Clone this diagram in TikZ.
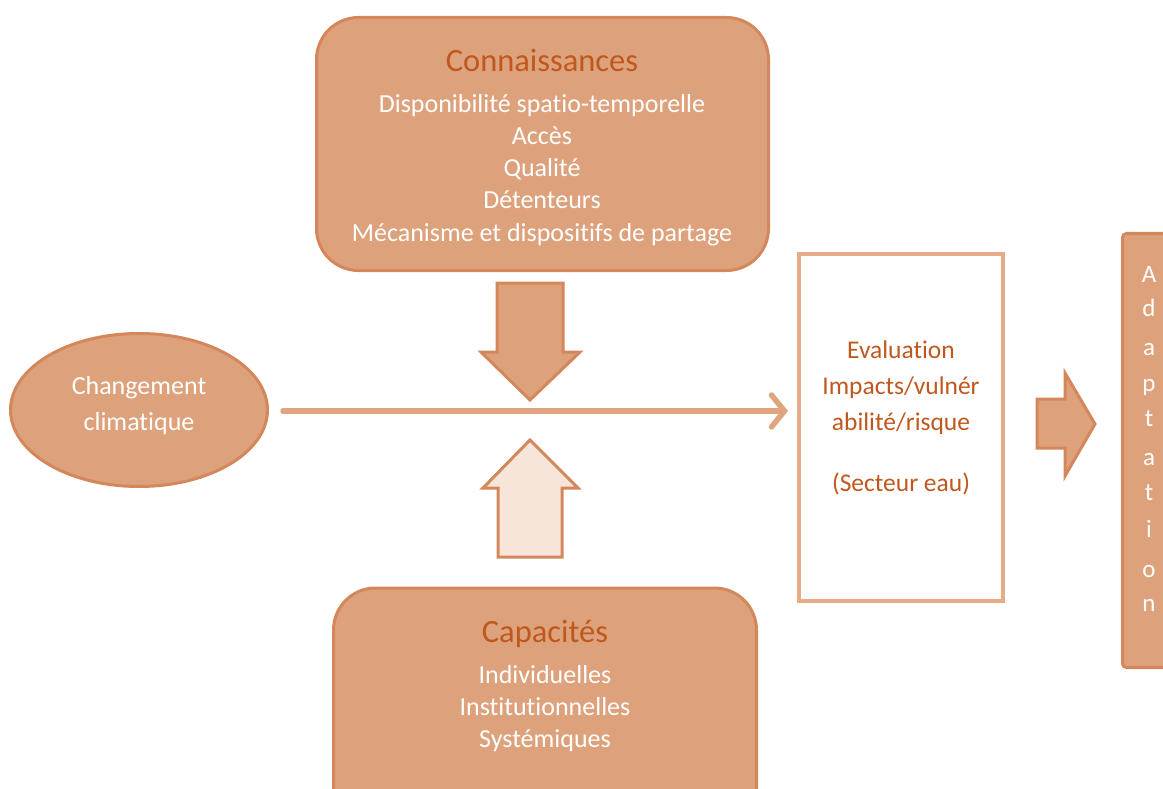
\documentclass[tikz,border=0pt]{standalone}
\usepackage{fontspec}
\setmainfont{Carlito}[Ligatures={NoCommon,NoRequired,NoContextual}]
\usetikzlibrary{arrows.meta,shapes.geometric}
\definecolor{boxfill}{HTML}{DDA27C}
\definecolor{boxline}{HTML}{D4875A}
\definecolor{titlecol}{HTML}{C0581E}
\definecolor{evalline}{HTML}{E6AC88}
\definecolor{linkcol}{HTML}{E0A47F}
\definecolor{lightfill}{HTML}{F7E5DA}
\tikzset{
  rbox/.style={draw=boxline, line width=3pt, fill=boxfill, rounded corners=42pt, inner sep=0pt},
  even/.style={text height=0.72em, text depth=0.22em, yshift=-7.5pt},
  title/.style={text=titlecol, font=\fontsize{32.5}{34}\selectfont, inner sep=0pt, even},
  item/.style={text=white, font=\fontsize{26}{28}\selectfont, inner sep=0pt, even},
  evtext/.style={text=titlecol, font=\fontsize{25.5}{27}\selectfont, inner sep=0pt, even},
  blockarrow/.style={draw=boxline, line width=3pt, line join=miter},
  letter/.style={text=white, font=\fontsize{25}{27}\selectfont, inner sep=0pt, even}
}
\begin{document}
\begin{tikzpicture}[x=1pt,y=-1pt]
\clip (0,0) rectangle (1163,789);
\fill[white] (0,0) rectangle (1163,789);
% Connaissances
\node[rbox, minimum width=452pt, minimum height=253pt] (kn) at (542.5,144) {};
\node[title] (kt) at (542,62) {Connaissances};
\node[item] (k1) at (542,103) {Disponibilité spatio-temporelle};
\node[item] (k2) at (542,135) {Accès};
\node[item] (k3) at (542,167) {Qualité};
\node[item] (k4) at (542,199) {Détenteurs};
\node[item] (k5) at (542,231) {Mécanisme et dispositifs de partage};
% Capacites
\node[rbox, minimum width=423pt, minimum height=260pt] (cap) at (545,718) {};
\node[title] (ct) at (545,632) {Capacités};
\node[item] (c1) at (545,673) {Individuelles};
\node[item] (c2) at (545,705) {Institutionnelles};
\node[item] (c3) at (545,737) {Systémiques};
% Changement climatique
\node[ellipse, draw=boxline, line width=3pt, fill=boxfill, minimum width=257pt, minimum height=153pt, inner sep=0pt] (cc) at (139,410) {};
\node[item] (cc1) at (139,384) {Changement};
\node[item] (cc2) at (139,420) {climatique};
% Evaluation
\node[draw=evalline, line width=4pt, fill=white, minimum width=204pt, minimum height=347pt, inner sep=0pt] (ev) at (901,427.5) {};
\node[evtext] (e1) at (901,348) {Evaluation};
\node[evtext] (e2) at (901,384) {Impacts/vulnér};
\node[evtext] (e3) at (901,420) {abilité/risque};
\node[evtext] (e4) at (901,481) {(Secteur eau)};
% Adaptation
\node[draw=boxline, line width=3pt, fill=boxfill, rounded corners=4pt, minimum width=90pt, minimum height=434pt, inner sep=0pt, anchor=north west] (ad) at (1121,232) {};
\foreach \l/\y [count=\i] in {A/272,d/306,a/345,p/381,t/416,a/455,t/490,i/527,o/567,n/601}
  \node[letter] (ad\i) at (1149,\y) {\l};
% main connector
\coordinate (hs) at (283,411);
\draw[linkcol, line width=5.5pt, line cap=round, shorten >=9pt, -{Straight Barb[length=13pt,width=32pt,line cap=round]}] (hs) -- (hs -| ev.west);
% down block arrow
\draw[blockarrow, fill=boxfill] (497,283) -- (563,283) -- (563,352) -- (580,352) -- (530,400) -- (481,352) -- (497,352) -- cycle;
% up block arrow
\draw[blockarrow, fill=lightfill] (498,557) -- (562,557) -- (562,488) -- (578,488) -- (530,440) -- (483,488) -- (498,488) -- cycle;
% right block arrow
\draw[blockarrow, fill=boxfill] (1037,399) -- (1065,399) -- (1065,373) -- (1095,424) -- (1065,476) -- (1065,448) -- (1037,448) -- cycle;
\end{tikzpicture}
\end{document}
